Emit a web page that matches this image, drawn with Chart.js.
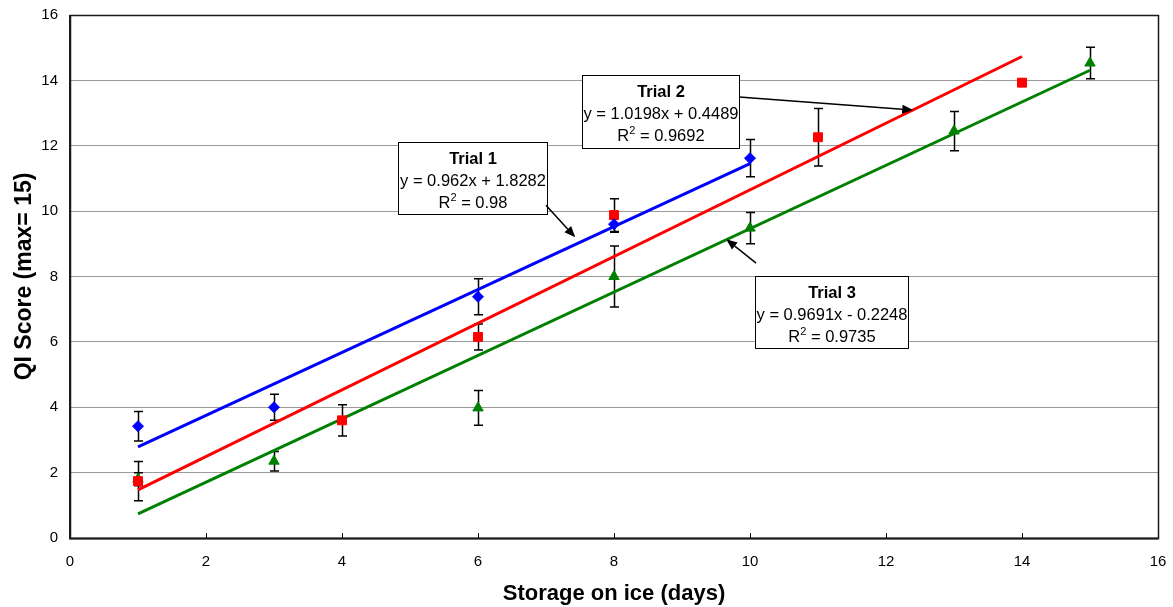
<!DOCTYPE html>
<html><head><meta charset="utf-8">
<script src="https://cdn.jsdelivr.net/npm/chart.js@4.4.1/dist/chart.umd.min.js"></script>
<style>html,body{margin:0;padding:0;background:#fff}#wrap{width:1173px;height:607px;position:relative}</style>
</head><body><div id="wrap"><canvas id="c"></canvas></div>
<script>
// ---- data ----
const days1 = [1, 3, 6, 8, 10];
const trial1 = [3.42, 4.0, 7.38, 9.6, 11.62];
const err1 = [0.45, 0.4, 0.55, 0.25, 0.57];

const days2 = [1, 4, 6, 8, 11, 14];
const trial2 = [1.74, 3.6, 6.15, 9.88, 12.26, 13.93];
const err2 = [0.6, 0.48, 0.4, 0.5, 0.88, 0.1];

const days3 = [1, 3, 6, 8, 10, 13, 15];
const trial3 = [1.8, 2.35, 3.98, 8.0, 9.48, 12.45, 14.53];
const err3 = [0.2, 0.3, 0.53, 0.93, 0.48, 0.6, 0.48];

// trendline end points (from the printed equations)
const trendX1 = [1, 10];  const trendY1 = [2.79, 11.45];
const trendX2 = [1, 14];  const trendY2 = [1.47, 14.73];
const trendX3 = [1, 15];  const trendY3 = [0.74, 14.31];

const trendTitles = ['Trial 1', 'Trial 2', 'Trial 3'];
const trendEqs = ['y = 0.962x + 1.8282', 'y = 1.0198x + 0.4489', 'y = 0.9691x - 0.2248'];
const trendR2 = ['0.98', '0.9692', '0.9735'];

const xTicks = [0, 2, 4, 6, 8, 10, 12, 14, 16];
const yTicks = [0, 2, 4, 6, 8, 10, 12, 14, 16];

const xTitle = 'Storage on ice (days)';
const yTitle = 'QI Score (max= 15)';

const BLUE = '#0000FF', RED = '#FF0000', GREEN = '#008000';
const FONT = "'Liberation Sans', Arial, sans-serif";

const pts = (xs, ys) => xs.map((x, i) => ({x: x, y: ys[i]}));
const errSeries = [
  {x: days1, y: trial1, e: err1},
  {x: days2, y: trial2, e: err2},
  {x: days3, y: trial3, e: err3}
];

// annotation layout (box top-left in data units, sizes in px)
const notes = [
  {bx: 4.82, by: 12.11, w: 149, h: 72, arrow: [7.0, 10.18, 7.43, 9.2]},
  {bx: 7.53, by: 14.16, w: 157, h: 73, arrow: [9.84, 13.49, 12.40, 13.09]},
  {bx: 10.07, by: 8.01, w: 153, h: 72, arrow: [10.09, 8.41, 9.65, 9.14]}
];

const errorBars = {
  id: 'errorBars',
  beforeDatasetsDraw(chart) {
    const {ctx, scales: {x, y}} = chart;
    ctx.save();
    ctx.strokeStyle = '#000';
    ctx.lineWidth = 1.5;
    errSeries.forEach(s => {
      s.x.forEach((d, i) => {
        const px = Math.round(x.getPixelForValue(d)) + 0.5;
        const top = y.getPixelForValue(s.y[i] + s.e[i]);
        const bot = y.getPixelForValue(s.y[i] - s.e[i]);
        ctx.beginPath();
        ctx.moveTo(px, top); ctx.lineTo(px, bot);
        ctx.moveTo(px - 4.5, top); ctx.lineTo(px + 4.5, top);
        ctx.moveTo(px - 4.5, bot); ctx.lineTo(px + 4.5, bot);
        ctx.stroke();
      });
    });
    ctx.restore();
  }
};

function arrow(ctx, x1, y1, x2, y2) {
  const a = Math.atan2(y2 - y1, x2 - x1);
  const L = 11, W = 4.5;
  const bx = x2 - L * Math.cos(a), by = y2 - L * Math.sin(a);
  ctx.beginPath();
  ctx.moveTo(x1, y1); ctx.lineTo(bx, by);
  ctx.stroke();
  ctx.beginPath();
  ctx.moveTo(x2, y2);
  ctx.lineTo(bx + W * Math.sin(a), by - W * Math.cos(a));
  ctx.lineTo(bx - W * Math.sin(a), by + W * Math.cos(a));
  ctx.closePath();
  ctx.fill();
}

const annotations = {
  id: 'annotations',
  afterDatasetsDraw(chart) {
    const {ctx, scales: {x, y}} = chart;
    ctx.save();
    notes.forEach((n, i) => {
      const left = Math.round(x.getPixelForValue(n.bx)) + 0.5;
      const top = Math.round(y.getPixelForValue(n.by)) + 0.5;
      ctx.fillStyle = '#fff';
      ctx.fillRect(left, top, n.w, n.h);
      ctx.strokeStyle = '#000';
      ctx.lineWidth = 1;
      ctx.strokeRect(left, top, n.w, n.h);
      const cx = left + n.w / 2;
      ctx.fillStyle = '#000';
      ctx.textAlign = 'center';
      ctx.textBaseline = 'alphabetic';
      ctx.font = 'bold 16.5px ' + FONT;
      ctx.fillText(trendTitles[i], cx, top + 21);
      ctx.font = '16.5px ' + FONT;
      ctx.fillText(trendEqs[i], cx, top + 43);
      // R^2 line
      const rest = ' = ' + trendR2[i];
      ctx.font = '16.5px ' + FONT;
      const wR = ctx.measureText('R').width;
      const wRest = ctx.measureText(rest).width;
      ctx.font = '11px ' + FONT;
      const w2 = ctx.measureText('2').width;
      let sx = cx - (wR + w2 + wRest) / 2;
      ctx.textAlign = 'left';
      ctx.font = '16.5px ' + FONT;
      ctx.fillText('R', sx, top + 65);
      ctx.font = '11px ' + FONT;
      ctx.fillText('2', sx + wR, top + 58);
      ctx.font = '16.5px ' + FONT;
      ctx.fillText(rest, sx + wR + w2, top + 65);
      // arrow
      ctx.strokeStyle = '#000';
      ctx.fillStyle = '#000';
      ctx.lineWidth = 1.5;
      arrow(ctx, x.getPixelForValue(n.arrow[0]), y.getPixelForValue(n.arrow[1]),
                 x.getPixelForValue(n.arrow[2]), y.getPixelForValue(n.arrow[3]));
    });
    ctx.restore();
  }
};

const frame = {
  id: 'frame',
  afterDraw(chart) {
    const {ctx, chartArea: a, scales: {x}} = chart;
    ctx.save();
    ctx.strokeStyle = '#000';
    ctx.lineWidth = 1;
    // inner tick marks on x axis
    ctx.beginPath();
    xTicks.forEach(v => {
      const px = Math.round(x.getPixelForValue(v)) + 0.5;
      ctx.moveTo(px, a.bottom); ctx.lineTo(px, a.bottom - 5);
    });
    ctx.stroke();
    ctx.strokeStyle = '#1a1a1a';
    ctx.lineWidth = 1.5;
    ctx.strokeRect(Math.round(a.left) + 0.5, Math.round(a.top) + 0.5,
                   Math.round(a.right - a.left), Math.round(a.bottom - a.top));
    ctx.lineWidth = 2;
    ctx.beginPath();
    ctx.moveTo(a.left, a.top); ctx.lineTo(a.left, a.bottom + 0.5); ctx.lineTo(a.right + 0.5, a.bottom + 0.5);
    ctx.stroke();
    ctx.restore();
  }
};

const lineDs = (xs, ys, color) => ({
  type: 'line', data: pts(xs, ys), borderColor: color, borderWidth: 3,
  pointRadius: 0, pointHoverRadius: 0, fill: false, order: 2, tension: 0
});
const pointDs = (xs, ys, color, style, r) => ({
  type: 'scatter', data: pts(xs, ys), backgroundColor: color, borderColor: color,
  borderWidth: 1, pointStyle: style, pointRadius: r, pointHoverRadius: r, order: 1, showLine: false
});

new Chart(document.getElementById('c'), {
  type: 'scatter',
  data: {
    datasets: [
      lineDs(trendX1, trendY1, BLUE),
      lineDs(trendX2, trendY2, RED),
      lineDs(trendX3, trendY3, GREEN),
      pointDs(days1, trial1, BLUE, 'rectRot', 5.5),
      pointDs(days2, trial2, RED, 'rect', 6.3),
      pointDs(days3, trial3, GREEN, 'triangle', 6)
    ]
  },
  options: {
    responsive: true,
    maintainAspectRatio: false,
    animation: false,
    events: [],
    layout: {padding: {top: 15, right: 15, left: 0, bottom: 0}},
    plugins: {legend: {display: false}, tooltip: {enabled: false}},
    scales: {
      x: {
        type: 'linear', min: 0, max: 16,
        afterBuildTicks: s => { s.ticks = xTicks.map(v => ({value: v})); },
        afterFit: s => { s.height = 69; s.paddingLeft = 0; s.paddingRight = 0; },
        grid: {display: false, drawTicks: false},
        border: {display: false},
        ticks: {padding: 15, color: '#000', font: {family: FONT, size: 15}, maxRotation: 0, autoSkip: false},
        title: {display: true, text: xTitle, color: '#000', font: {family: FONT, size: 22, weight: 'bold'}, padding: {top: 0, bottom: 0}}
      },
      y: {
        type: 'linear', min: 0, max: 16,
        afterBuildTicks: s => { s.ticks = yTicks.map(v => ({value: v})); },
        afterFit: s => { s.width = 70; s.paddingTop = 0; s.paddingBottom = 0; },
        grid: {color: '#9a9a9a', lineWidth: 1, drawTicks: false},
        border: {display: false},
        ticks: {padding: 12, color: '#000', font: {family: FONT, size: 15}},
        title: {display: true, text: yTitle, color: '#000', font: {family: FONT, size: 23, weight: 'bold'}, padding: {top: 11, bottom: 0}}
      }
    }
  },
  plugins: [errorBars, annotations, frame]
});
</script>
</body></html>
